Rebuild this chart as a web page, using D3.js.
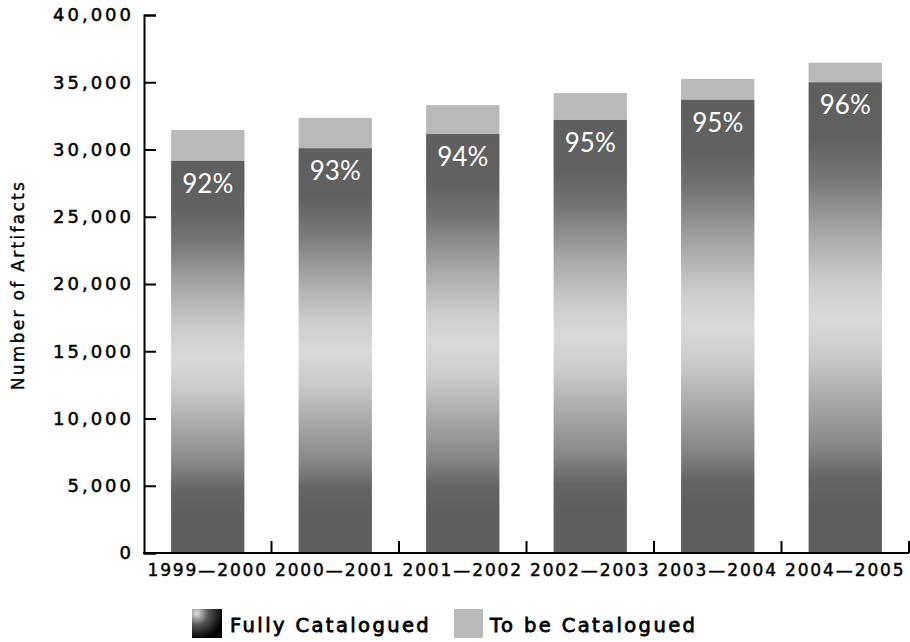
<!DOCTYPE html>
<html>
<head>
<meta charset="utf-8">
<script src="https://cdn.jsdelivr.net/npm/d3@7"></script>
<style>
  body { margin: 0; background: #fff; }
  text { font-family: "DejaVu Sans", sans-serif; }
</style>
</head>
<body>
<div id="chart"></div>
<script>
const years = ["1999\u20142000", "2000\u20142001", "2001\u20142002", "2002\u20142003", "2003\u20142004", "2004\u20142005"];
const catalogued = [29150, 30100, 31150, 32200, 33700, 35000];
const totals = [31450, 32350, 33300, 34200, 35250, 36450];
const pctLabels = ["92%", "93%", "94%", "95%", "95%", "96%"];
const yTicks = [0, 5000, 10000, 15000, 20000, 25000, 30000, 35000, 40000];

const width = 910, height = 642;
const svg = d3.select("#chart").append("svg")
  .attr("width", width)
  .attr("height", height);

const defs = svg.append("defs");
const grad = defs.append("linearGradient")
  .attr("id", "barGrad")
  .attr("x1", 0).attr("y1", 0).attr("x2", 0).attr("y2", 1);
[[0, "#5f5f5f"], [0.12, "#616161"], [0.2, "#757575"], [0.33, "#aaaaaa"], [0.43, "#cdcdcd"],
 [0.5, "#d9d9d9"], [0.58, "#cbcbcb"], [0.68, "#a7a7a7"], [0.77, "#888888"], [0.84, "#656565"],
 [0.9, "#5f5f5f"], [1, "#5f5f5f"]].forEach(s => {
  grad.append("stop").attr("offset", s[0]).attr("stop-color", s[1]);
});

const legGrad = defs.append("radialGradient")
  .attr("id", "legGrad")
  .attr("cx", 0.15).attr("cy", 0.15).attr("r", 0.9);
legGrad.append("stop").attr("offset", 0).attr("stop-color", "#e0e0e0");
legGrad.append("stop").attr("offset", 0.45).attr("stop-color", "#555");
legGrad.append("stop").attr("offset", 1).attr("stop-color", "#000");

const x = d3.scaleBand().domain(years).range([144, 909]).padding(0);
const y = d3.scaleLinear().domain([0, 40000]).range([553, 15]);
const barW = x.bandwidth() * 0.575;

// bars
const bars = svg.append("g");
years.forEach((yr, i) => {
  const cx = x(yr) + x.bandwidth() / 2;
  bars.append("rect")
    .attr("x", cx - barW / 2)
    .attr("y", y(totals[i]))
    .attr("width", barW)
    .attr("height", y(catalogued[i]) - y(totals[i]))
    .attr("fill", "#b9b9b9");
  bars.append("rect")
    .attr("x", cx - barW / 2)
    .attr("y", y(catalogued[i]))
    .attr("width", barW)
    .attr("height", y(0) - y(catalogued[i]))
    .attr("fill", "url(#barGrad)");
  bars.append("text")
    .attr("x", cx)
    .attr("y", y(catalogued[i]) + 32)
    .attr("text-anchor", "middle")
    .attr("fill", "#fff")
    .style("font-family", "Lato, sans-serif")
    .attr("font-size", "26px")
    .text(pctLabels[i]);
});

// y axis
const yAxis = svg.append("g")
  .attr("transform", "translate(144,0)")
  .call(d3.axisRight(y).tickValues(yTicks).tickSize(12).tickFormat(d3.format(",")));
yAxis.select(".domain").attr("stroke", "#000").attr("stroke-width", 2);
yAxis.selectAll(".tick line").attr("stroke", "#000").attr("stroke-width", 2);
yAxis.selectAll(".tick text")
  .attr("x", -10)
  .attr("text-anchor", "end")
  .attr("font-size", "18px")
  .attr("letter-spacing", "3px")
  .attr("fill", "#000")
  .attr("stroke", "#000")
  .attr("stroke-width", 0.5)
  .style("font-family", "DejaVu Sans, sans-serif");

// x axis
const xAxis = svg.append("g")
  .attr("transform", "translate(0,553)");
xAxis.append("line")
  .attr("x1", 143).attr("x2", 909)
  .attr("stroke", "#000").attr("stroke-width", 2);
years.forEach(yr => {
  const bx = x(yr) + x.bandwidth();
  xAxis.append("line")
    .attr("x1", bx).attr("x2", bx)
    .attr("y1", 0).attr("y2", -12)
    .attr("stroke", "#000").attr("stroke-width", 2);
  xAxis.append("text")
    .attr("x", x(yr) + x.bandwidth() / 2)
    .attr("y", 23)
    .attr("text-anchor", "middle")
    .attr("font-size", "17px")
    .attr("letter-spacing", "1.9px")
    .attr("stroke", "#000")
    .attr("stroke-width", 0.45)
    .text(yr);
});

// y title
svg.append("text")
  .attr("transform", "translate(24,285) rotate(-90)")
  .attr("text-anchor", "middle")
  .attr("font-size", "17px")
  .attr("letter-spacing", "2.3px")
  .attr("stroke", "#000")
  .attr("stroke-width", 0.4)
  .text("Number of Artifacts");

// legend
const legend = svg.append("g");
legend.append("rect")
  .attr("x", 192).attr("y", 609).attr("width", 30).attr("height", 29)
  .attr("fill", "url(#legGrad)");
legend.append("text")
  .attr("x", 230).attr("y", 632)
  .attr("font-size", "19.5px")
  .attr("letter-spacing", "2.4px")
  .attr("stroke", "#000")
  .attr("stroke-width", 0.8)
  .text("Fully Catalogued");
legend.append("rect")
  .attr("x", 454).attr("y", 609).attr("width", 29).attr("height", 29)
  .attr("fill", "#b9b9b9");
legend.append("text")
  .attr("x", 490).attr("y", 632)
  .attr("font-size", "19.5px")
  .attr("letter-spacing", "2.4px")
  .attr("stroke", "#000")
  .attr("stroke-width", 0.8)
  .text("To be Catalogued");
</script>
</body>
</html>
